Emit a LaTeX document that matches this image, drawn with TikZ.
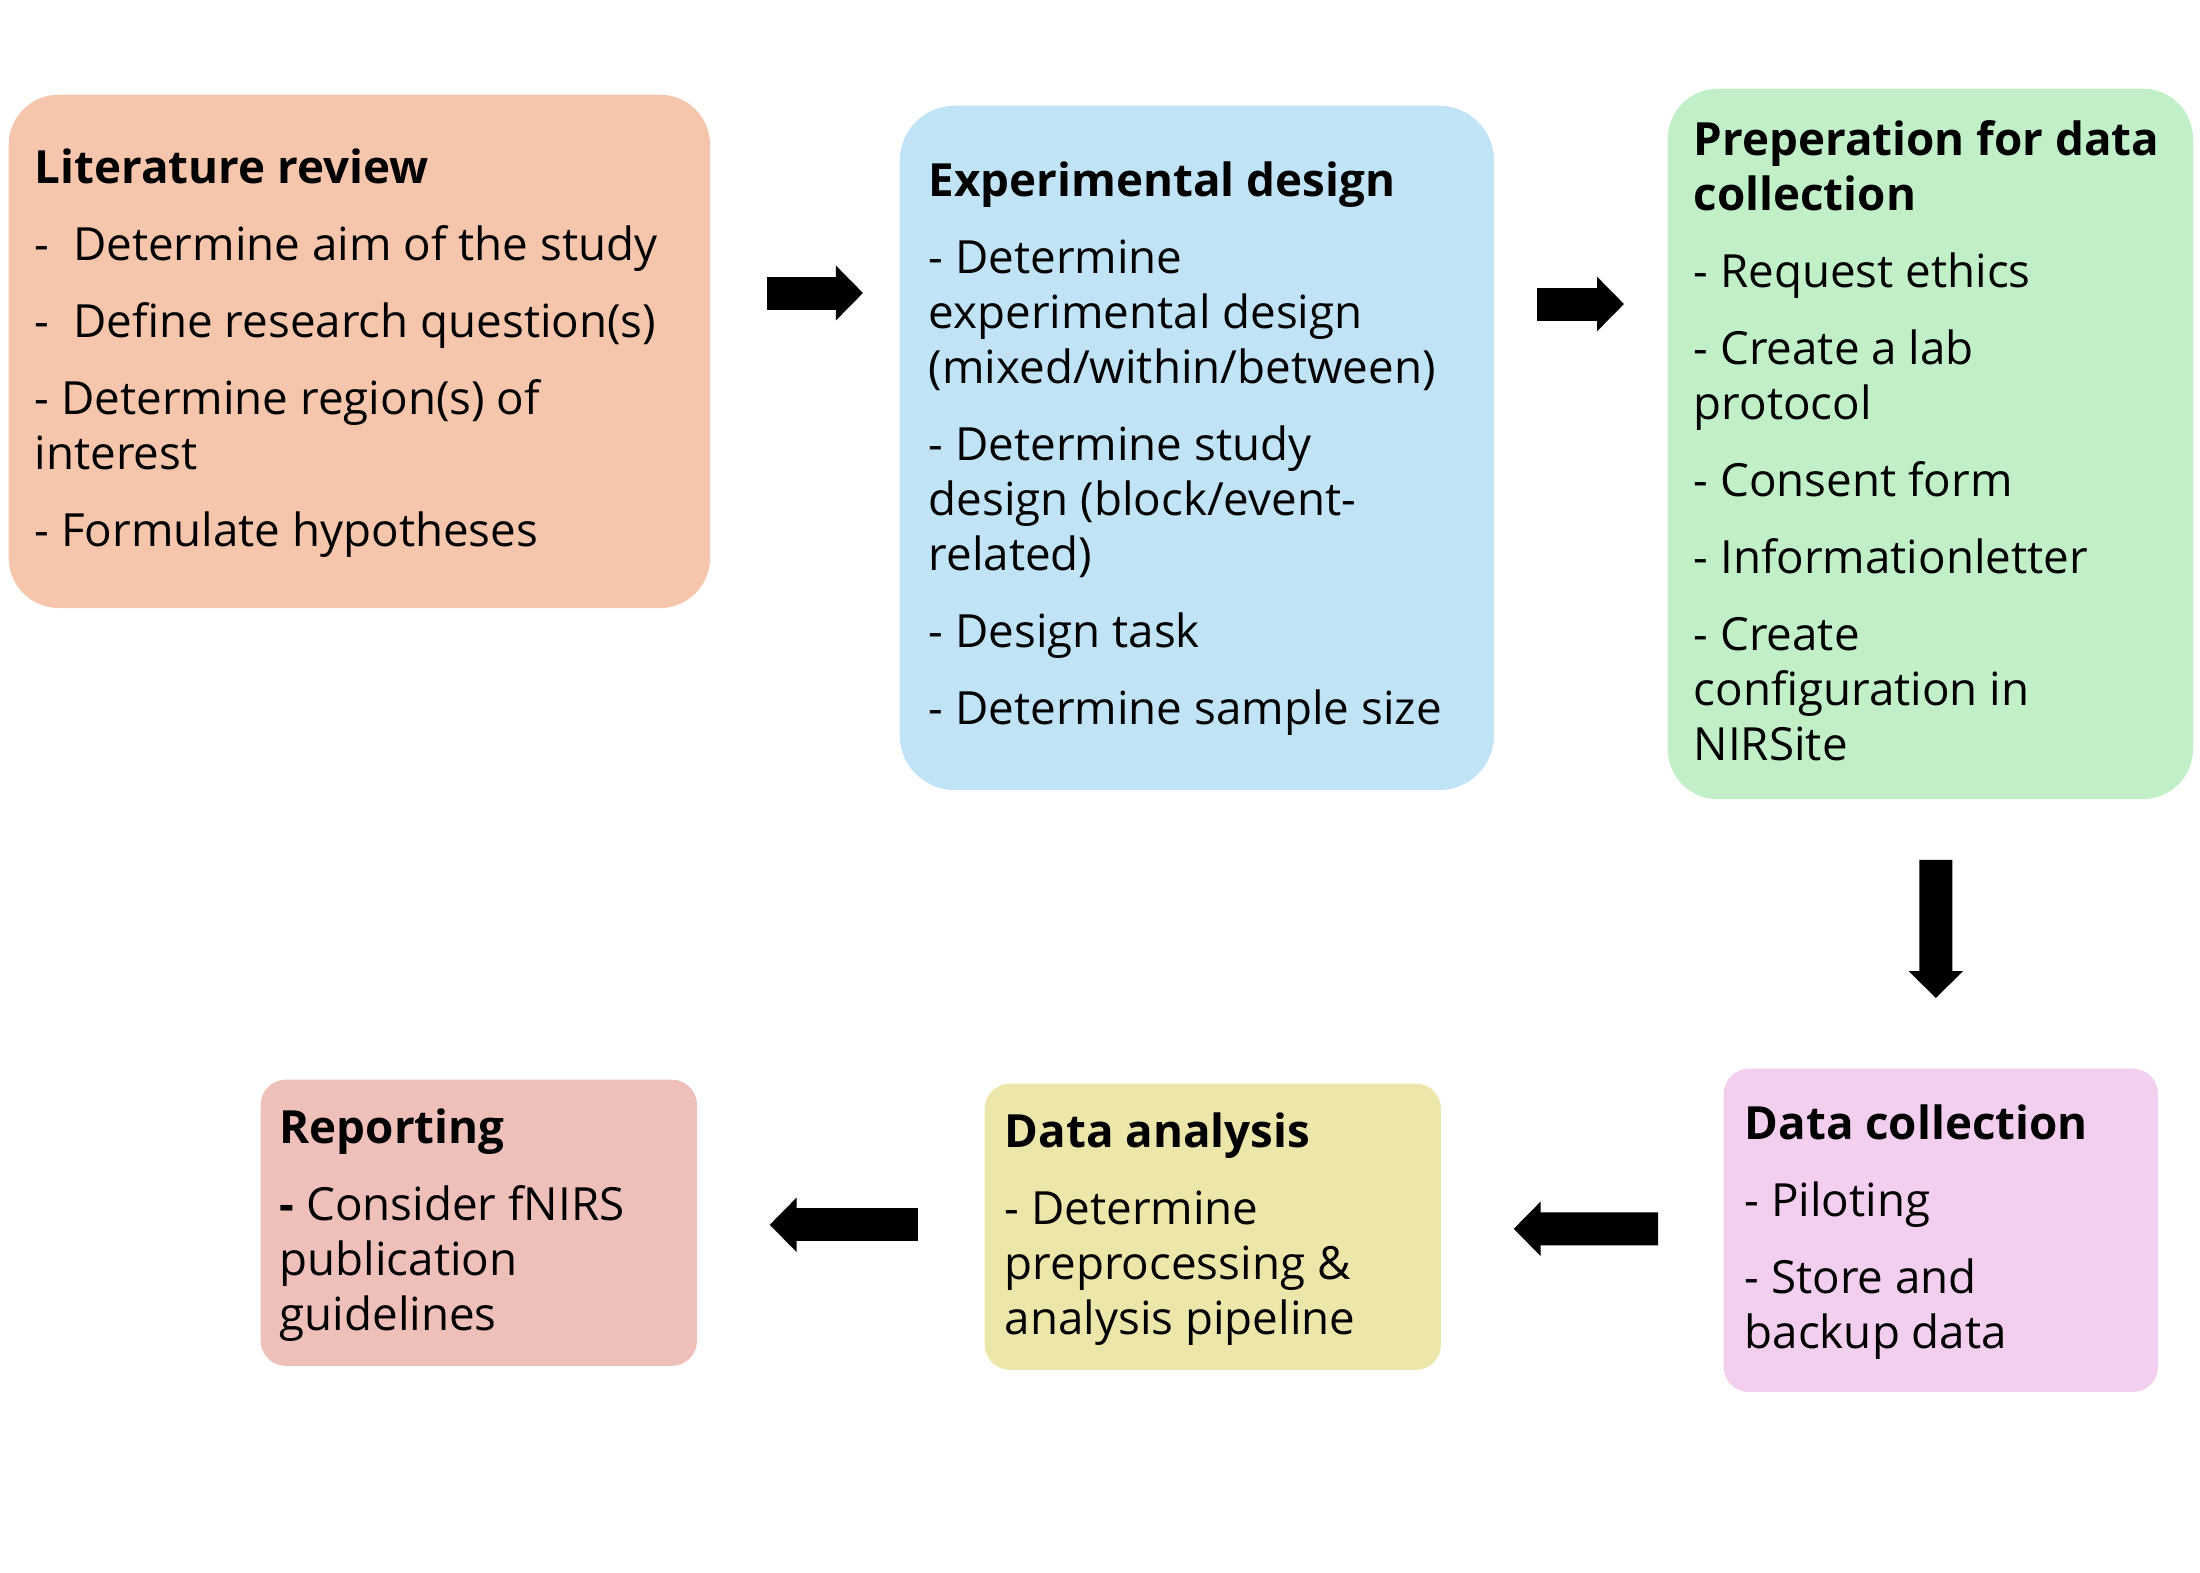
\documentclass[tikz,border=0pt]{standalone}
\usepackage{fontspec}
\setmainfont{Open Sans}
\usetikzlibrary{arrows.meta, positioning, calc}
\definecolor{litfill}{HTML}{F6C6AC}
\definecolor{expfill}{HTML}{C0E4F5}
\definecolor{prepfill}{HTML}{C1F0C8}
\definecolor{collfill}{HTML}{F2CEEF}
\definecolor{anafill}{HTML}{EDE6AA}
\definecolor{repfill}{HTML}{EFBFBA}
\newcommand{\hd}[1]{\strut\textbf{#1}}

\begin{document}
\begin{tikzpicture}[
    x=0.01cm, y=-0.01cm,
    stage/.style={rectangle, draw=none, anchor=north west, inner sep=0pt, rounded corners=0.5cm},
    smallstage/.style={stage, rounded corners=0.25cm},
    stagetext/.style={anchor=north west, inner sep=0pt, align=left, font=\fontsize{13}{15.65}\selectfont},
    bigarrow/.style={line width=0.33cm, -{Triangle[length=0.27cm, width=0.53cm]}}
]
\useasboundingbox (0,0) rectangle (2200,1572);

% Top row
\node[stage, fill=litfill, minimum width=7.01cm, minimum height=5.13cm] (lit) at (8,94) {};
\node[stage, fill=expfill, minimum width=5.94cm, minimum height=6.84cm, rounded corners=0.55cm] (exp) at (899,105) {};
\node[stage, fill=prepfill, minimum width=5.25cm, minimum height=7.10cm] (prep) at (1667,88) {};

% Bottom row
\node[smallstage, fill=collfill, minimum width=4.34cm, minimum height=3.23cm] (coll) at (1723,1068) {};
\node[smallstage, fill=anafill, minimum width=4.56cm, minimum height=2.86cm] (ana) at (984,1083) {};
\node[smallstage, fill=repfill, minimum width=4.36cm, minimum height=2.86cm] (rep) at (260,1079) {};

% Box texts
\node[stagetext] (litText) at ($(lit.north west)+(26,50)$) {\hd{Literature review}\\[6.26pt]
-\ \ Determine aim of the study\\[6.26pt]
-\ \ Define research question(s)\\[6.26pt]
- Determine region(s) of\\
interest\\[6.26pt]
- Formulate hypotheses};

\node[stagetext] (expText) at ($(exp.north west)+(29,52)$) {\hd{Experimental design}\\[6.26pt]
- Determine\\
experimental design\\
(mixed/within/between)\\[6.26pt]
- Determine study\\
design (block/event-\\
related)\\[6.26pt]
- Design task\\[6.26pt]
- Determine sample size};

\node[stagetext] (prepText) at ($(prep.north west)+(26,28)$) {\hd{Preperation for data}\\
\textbf{collection}\\[6.26pt]
- Request ethics\\[6.26pt]
- Create a lab\\
protocol\\[6.26pt]
- Consent form\\[6.26pt]
- Informationletter\\[6.26pt]
- Create\\
configuration in\\
NIRSite};

\node[stagetext] (collText) at ($(coll.north west)+(21,32)$) {\hd{Data collection}\\[6.26pt]
- Piloting\\[6.26pt]
- Store and\\
backup data};

\node[stagetext] (anaText) at ($(ana.north west)+(20,25)$) {\hd{Data analysis}\\[6.26pt]
- Determine\\
preprocessing \&\\
analysis pipeline};

\node[stagetext] (repText) at ($(rep.north west)+(19,25)$) {\hd{Reporting}\\[6.26pt]
\textbf{-} Consider fNIRS\\
publication\\
guidelines};

% Arrows
\draw[bigarrow] ($(lit.north east)+(56,199)$) -- ($(exp.north west)+(-36,188)$);
\draw[bigarrow] ($(exp.north east)+(42,199)$) -- ($(prep.north west)+(-43,216)$);
\draw[bigarrow] ($(prep.south)+(5.5,60)$) -- ($(coll.north)+(-5,-70)$);
\draw[bigarrow] ($(coll.west)+(-65,-1.5)$) -- ($(ana.east)+(72,2)$);
\draw[bigarrow] ($(ana.west)+(-66,-2)$) -- ($(rep.east)+(72,2)$);

\end{tikzpicture}
\end{document}
